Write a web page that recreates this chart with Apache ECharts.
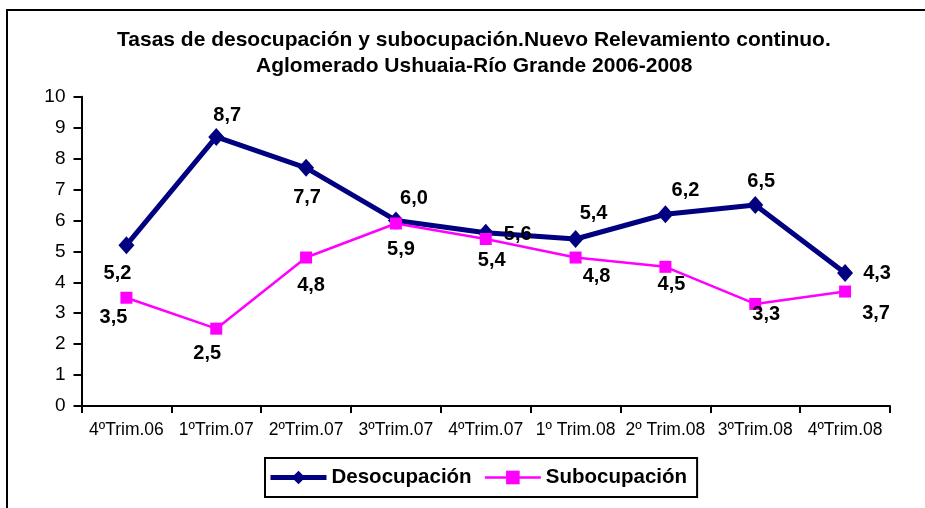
<!DOCTYPE html>
<html>
<head>
<meta charset="utf-8">
<script src="https://cdn.jsdelivr.net/npm/echarts@6/dist/echarts.min.js"></script>
<style>
  html, body { margin: 0; padding: 0; background: #fff; }
  #chart { width: 925px; height: 508px; }
</style>
</head>
<body>
<div id="chart"></div>
<script>
// ---- data ----
const categories = ['4ºTrim.06', '1ºTrim.07', '2ºTrim.07', '3ºTrim.07', '4ºTrim.07', '1º Trim.08', '2º Trim.08', '3ºTrim.08', '4ºTrim.08'];
const desocupacion = [5.2, 8.7, 7.7, 6.0, 5.6, 5.4, 6.2, 6.5, 4.3];
const subocupacion = [3.5, 2.5, 4.8, 5.9, 5.4, 4.8, 4.5, 3.3, 3.7];
const yTicks = [0, 1, 2, 3, 4, 5, 6, 7, 8, 9, 10];
const titleLines = ['Tasas de desocupación y subocupación.Nuevo Relevamiento continuo.', 'Aglomerado Ushuaia-Río Grande 2006-2008'];
const seriesNames = ['Desocupación', 'Subocupación'];

// ---- label placement (style) ----
const desoLabelOffsets = [[-9, 28], [11, -21], [1, 30], [18, -22], [32, 2], [18, -25], [20, -24], [6, -23], [32, 0]];
const subLabelOffsets = [[-13, 20], [-9, 25], [5, 28], [5, 26], [6, 22], [21, 19], [6, 18], [11, 11], [31, 22]];

const FONT = '"Liberation Sans", Arial, sans-serif';
const TITLE_SIZE = 21;
const fmt = v => v.toFixed(1).replace('.', ',');

function withLabels(values, offsets) {
  return values.map((v, i) => ({
    value: v,
    label: { offset: offsets[i] }
  }));
}

// measure title lines so that each one is centred at x = 474
const ctx = document.createElement('canvas').getContext('2d');
ctx.font = 'bold ' + TITLE_SIZE + 'px ' + FONT;
const titles = titleLines.map((t, i) => ({
  text: t,
  left: Math.round(474 - ctx.measureText(t).width / 2),
  top: 27 + i * 26,
  padding: 0,
  textStyle: { fontFamily: FONT, fontSize: TITLE_SIZE, fontWeight: 'bold', color: '#000', lineHeight: 26 }
}));

const chart = echarts.init(document.getElementById('chart'), null, { renderer: 'canvas' });
chart.setOption({
  animation: false,
  backgroundColor: '#ffffff',
  title: titles,
  graphic: [{
    type: 'rect',
    shape: { x: 7, y: 10, width: 1000, height: 1000 },
    style: { fill: 'none', stroke: '#000', lineWidth: 2 },
    silent: true,
    z: 100
  }],
  legend: {
    left: 265,
    top: 458,
    padding: [9, 10, 9, 3],
    itemWidth: 56,
    itemHeight: 17,
    itemGap: 12,
    borderColor: '#000',
    borderWidth: 2,
    textStyle: { fontFamily: FONT, fontSize: 20.5, fontWeight: 'bold', color: '#000' },
    data: [
      { name: seriesNames[0], lineStyle: { width: 5 } },
      { name: seriesNames[1], lineStyle: { width: 2.5 } }
    ]
  },
  grid: {
    left: 81.5, right: 35, top: 96.7, bottom: 102,
    containLabel: false,
    outerBoundsMode: 'none'
  },
  xAxis: {
    type: 'category',
    data: categories,
    boundaryGap: true,
    axisLine: { lineStyle: { color: '#000', width: 2 } },
    axisTick: { show: true, length: 7, alignWithLabel: false, lineStyle: { color: '#000', width: 2 } },
    axisLabel: { color: '#000', fontFamily: FONT, fontSize: 17.5, margin: 15, interval: 0 },
    splitLine: { show: false }
  },
  yAxis: {
    type: 'value',
    min: yTicks[0],
    max: yTicks[yTicks.length - 1],
    interval: 1,
    axisLine: { show: true, lineStyle: { color: '#000', width: 2 } },
    axisTick: { show: true, length: 8, lineStyle: { color: '#000', width: 2 } },
    axisLabel: { color: '#000', fontFamily: FONT, fontSize: 19, margin: 16 },
    splitLine: { show: false }
  },
  series: [
    {
      name: seriesNames[0],
      type: 'line',
      data: withLabels(desocupacion, desoLabelOffsets),
      symbol: 'diamond',
      symbolSize: [16, 18],
      lineStyle: { color: '#000080', width: 5 },
      itemStyle: { color: '#000080' },
      label: {
        show: true,
        position: 'inside',
        align: 'center',
        verticalAlign: 'middle',
        formatter: p => fmt(p.value),
        fontFamily: FONT, fontSize: 20, fontWeight: 'bold', color: '#000'
      },
      z: 3
    },
    {
      name: seriesNames[1],
      type: 'line',
      data: withLabels(subocupacion, subLabelOffsets),
      symbol: 'rect',
      symbolSize: 12,
      lineStyle: { color: '#FF00FF', width: 2.5 },
      itemStyle: { color: '#FF00FF' },
      label: {
        show: true,
        position: 'inside',
        align: 'center',
        verticalAlign: 'middle',
        formatter: p => fmt(p.value),
        fontFamily: FONT, fontSize: 20, fontWeight: 'bold', color: '#000'
      },
      z: 4
    }
  ]
});
</script>
</body>
</html>
